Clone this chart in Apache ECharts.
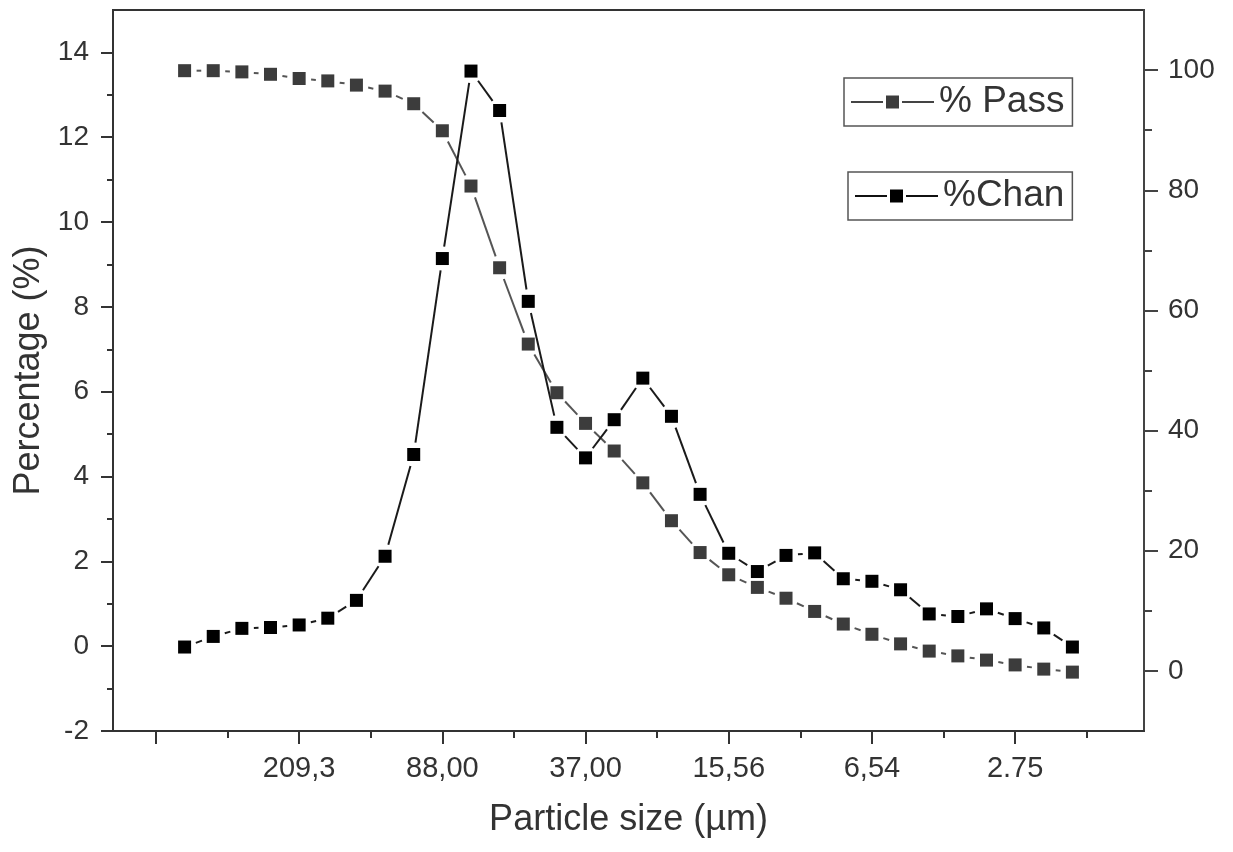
<!DOCTYPE html>
<html>
<head>
<meta charset="utf-8">
<script src="https://cdn.jsdelivr.net/npm/echarts@6/dist/echarts.min.js"></script>
<style>html,body{margin:0;padding:0;background:#fff}#c{width:1233px;height:852px}</style>
</head>
<body>
<div id="c"></div>
<script>
// x positions of the sieve classes (one per measured size)
const pointX = [1,2,3,4,5,6,7,8,9,10,11,12,13,14,15,16,17,18,19,20,21,22,23,24,25,26,27,28,29,30,31,32];
// % Pass (right axis)
const passValues = [99.9,99.9,99.7,99.3,98.6,98.2,97.5,96.5,94.4,89.9,80.7,67.1,54.4,46.3,41.2,36.6,31.3,25.0,19.7,16.0,13.9,12.1,9.9,7.8,6.1,4.5,3.3,2.5,1.8,1.0,0.3,-0.2];
// %Chan (left axis)
const chanValues = [-0.02,0.23,0.42,0.44,0.50,0.66,1.08,2.12,4.52,9.14,13.56,12.63,8.13,5.16,4.44,5.34,6.32,5.42,3.58,2.19,1.76,2.14,2.20,1.59,1.53,1.33,0.76,0.70,0.88,0.65,0.43,-0.02];
// x axis ticks
const xTickValues = [0,5,10,15,20,25,30];
const xTickLabels = ['','209,3','88,00','37,00','15,56','6,54','2.75'];
const xMinorTicks = [2.5,7.5,12.5,17.5,22.5,27.5,32.5];
// left axis ticks
const leftTicks = [-2,0,2,4,6,8,10,12,14];
const leftMinor = [-1,1,3,5,7,9,11,13];
// right axis ticks
const rightTicks = [0,20,40,60,80,100];
const rightMinor = [10,30,50,70,90];

const FONT = 'Liberation Sans, Arial, Helvetica, sans-serif';
const AX = '#333';
const GAP = 12;

function segs(xs, ys) {
  const out = [];
  for (let i = 0; i < xs.length - 1; i++) out.push([xs[i], ys[i], xs[i+1], ys[i+1]]);
  return out;
}
function segRender(color, width) {
  return function (params, api) {
    const a = api.coord([api.value(0), api.value(1)]);
    const b = api.coord([api.value(2), api.value(3)]);
    const dx = b[0]-a[0], dy = b[1]-a[1], L = Math.hypot(dx, dy);
    if (L <= 2*GAP) return null;
    const ux = dx/L, uy = dy/L;
    return {type:'line', shape:{x1:a[0]+ux*GAP, y1:a[1]+uy*GAP, x2:b[0]-ux*GAP, y2:b[1]-uy*GAP},
            style:{stroke:color, lineWidth:width}};
  };
}

const chart = echarts.init(document.getElementById('c'));
const common = {splitLine:{show:false}};
chart.setOption({
  animation:false,
  backgroundColor:'#fff',
  textStyle:{fontFamily:FONT},
  grid:{left:113, right:89, top:10, bottom:121, show:true, borderColor:AX, borderWidth:2, backgroundColor:'transparent'},
  legend:[
    {data:['% Pass'], left:844, top:78, padding:[4,8,4,6], borderColor:'#555', borderWidth:1.5,
     itemWidth:83, itemHeight:20, textStyle:{fontSize:37, color:'#333', fontFamily:FONT, lineHeight:40},
     lineStyle:{color:'#444', width:2, opacity:1}, itemStyle:{borderColor:'#fff', borderWidth:3}, selectedMode:false},
    {data:['%Chan'], left:848, top:172, padding:[4,8,4,6], borderColor:'#555', borderWidth:1.5,
     itemWidth:83, itemHeight:20, textStyle:{fontSize:37, color:'#333', fontFamily:FONT, lineHeight:40},
     lineStyle:{color:'#111', width:2, opacity:1}, itemStyle:{borderColor:'#fff', borderWidth:3}, selectedMode:false}
  ],
  xAxis:[
    Object.assign({type:'value', min:-1.5, max:34.5, position:'bottom',
      axisLine:{show:true, onZero:false, lineStyle:{color:AX, width:2}},
      axisTick:{show:true, customValues:xTickValues, length:13, lineStyle:{color:AX, width:2}},
      axisLabel:{customValues:xTickValues, margin:23, fontSize:29, color:'#333', fontFamily:FONT,
        formatter:function(v){ const i = xTickValues.indexOf(v); return i >= 0 ? xTickLabels[i] : ''; }},
      name:'Particle size (µm)', nameLocation:'middle', nameGap:71,
      nameTextStyle:{fontSize:36, color:'#333', fontFamily:FONT}}, common),
    Object.assign({type:'value', min:-1.5, max:34.5, position:'bottom',
      axisLine:{show:false, onZero:false}, axisLabel:{show:false},
      axisTick:{show:true, customValues:xMinorTicks, length:7, lineStyle:{color:AX, width:2}}}, common)
  ],
  yAxis:[
    Object.assign({type:'value', min:-2, max:15, position:'left',
      axisLine:{show:true, onZero:false, lineStyle:{color:AX, width:2}},
      axisTick:{show:true, customValues:leftTicks, length:12, lineStyle:{color:AX, width:2}},
      axisLabel:{customValues:leftTicks, margin:24, fontSize:28, color:'#333', fontFamily:FONT},
      name:'Percentage (%)', nameLocation:'middle', nameGap:61,
      nameTextStyle:{fontSize:36, color:'#333', fontFamily:FONT}}, common),
    Object.assign({type:'value', min:-10, max:110, position:'right',
      axisLine:{show:true, onZero:false, lineStyle:{color:'#444', width:2}},
      axisTick:{show:true, customValues:rightTicks, length:14, lineStyle:{color:'#444', width:2}},
      axisLabel:{customValues:rightTicks, margin:24, fontSize:28, color:'#333', fontFamily:FONT}}, common),
    Object.assign({type:'value', min:-2, max:15, position:'left',
      axisLine:{show:false, onZero:false}, axisLabel:{show:false},
      axisTick:{show:true, customValues:leftMinor, length:6, lineStyle:{color:AX, width:2}}}, common),
    Object.assign({type:'value', min:-10, max:110, position:'right',
      axisLine:{show:false, onZero:false}, axisLabel:{show:false},
      axisTick:{show:true, customValues:rightMinor, length:8, lineStyle:{color:'#444', width:2}}}, common)
  ],
  series:[
    {name:'pass-seg', type:'custom', coordinateSystem:'cartesian2d', xAxisIndex:0, yAxisIndex:1,
     data:segs(pointX, passValues), encode:{x:[0,2], y:[1,3]}, renderItem:segRender('#555', 2), clip:false, silent:true},
    {name:'% Pass', type:'line', xAxisIndex:0, yAxisIndex:1,
     data:pointX.map((x,i)=>[x, passValues[i]]), symbol:'rect', symbolSize:13,
     itemStyle:{color:'#3c3c3c'}, lineStyle:{width:0, opacity:0, color:'#555'}, silent:true},
    {name:'chan-seg', type:'custom', coordinateSystem:'cartesian2d', xAxisIndex:0, yAxisIndex:0,
     data:segs(pointX, chanValues), encode:{x:[0,2], y:[1,3]}, renderItem:segRender('#1a1a1a', 2), clip:false, silent:true},
    {name:'%Chan', type:'line', xAxisIndex:0, yAxisIndex:0,
     data:pointX.map((x,i)=>[x, chanValues[i]]), symbol:'rect', symbolSize:13,
     itemStyle:{color:'#000'}, lineStyle:{width:0, opacity:0, color:'#222'}, silent:true}
  ]
});
</script>
</body>
</html>
